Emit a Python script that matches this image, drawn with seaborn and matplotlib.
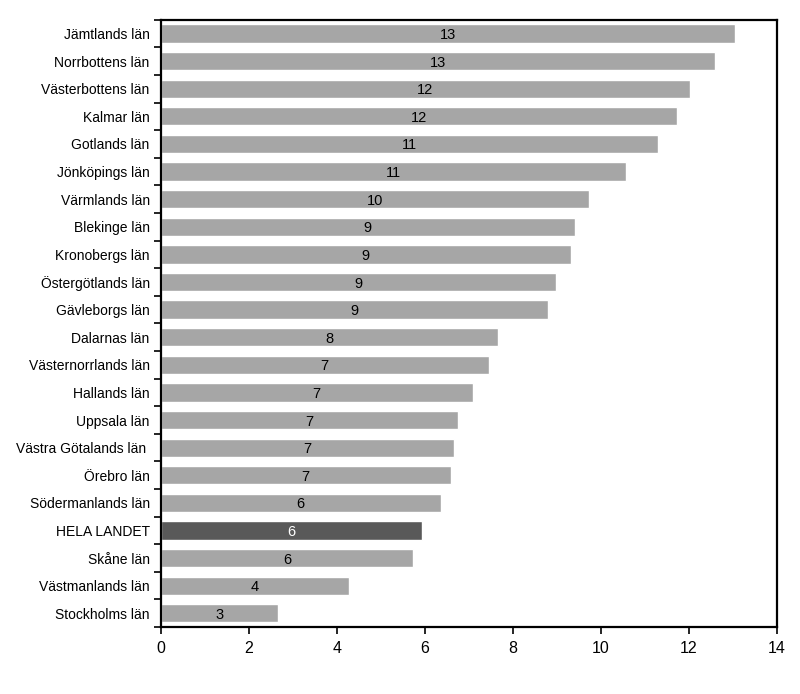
import pandas as pd
import matplotlib
matplotlib.use("Agg")
import matplotlib.pyplot as plt
import seaborn as sns

# --- data ---
counties = ['Jämtlands län', 'Norrbottens län', 'Västerbottens län', 'Kalmar län',
            'Gotlands län', 'Jönköpings län', 'Värmlands län', 'Blekinge län',
            'Kronobergs län', 'Östergötlands län', 'Gävleborgs län', 'Dalarnas län',
            'Västernorrlands län', 'Hallands län', 'Uppsala län', 'Västra Götalands län ',
            'Örebro län', 'Södermanlands län', 'HELA LANDET', 'Skåne län',
            'Västmanlands län', 'Stockholms län']
values = [13.05, 12.59, 12.02, 11.73, 11.30, 10.57, 9.73, 9.41, 9.32, 8.98, 8.80,
          7.66, 7.45, 7.09, 6.75, 6.66, 6.59, 6.36, 5.93, 5.73, 4.27, 2.66]
highlight = 'HELA LANDET'

df = pd.DataFrame({'county': counties, 'value': values})
df['group'] = ['total' if c == highlight else 'county' for c in counties]

# --- plotting ---
sns.set_style("white")
plt.rcParams['font.family'] = ['Liberation Sans', 'DejaVu Sans']
plt.rcParams['text.color'] = 'black'
plt.rcParams['xtick.color'] = 'black'
plt.rcParams['ytick.color'] = 'black'

fig = plt.figure(figsize=(8, 6.94), dpi=100)
ax = fig.add_axes([0.201, 0.0965, 0.77, 0.875])

sns.barplot(
    data=df, x='value', y='county', hue='group',
    palette={'county': '#a6a6a6', 'total': '#595959'},
    orient='h', width=0.66, dodge=False, legend=False,
    saturation=1, ax=ax
)

# value labels, rounded, centered in each bar
for container in ax.containers:
    labels = ax.bar_label(container, fmt='%.0f', label_type='center', fontsize=10.5)
    for bar, lab in zip(container, labels):
        lab.set_va('center_baseline')
        if bar.get_height() > 0 and bar.get_facecolor()[0] < 0.5:
            lab.set_color('white')

ax.set_xlim(0, 14)
ax.set_xticks(range(0, 15, 2))
ax.set_xlabel('')
ax.set_ylabel('')
ax.set_ylim(len(counties) - 0.5, -0.5)

# tick marks between categories, labels at centres
ax.set_yticks([i - 0.5 for i in range(len(counties) + 1)], minor=True)
ax.tick_params(axis='y', which='major', length=0, pad=8, labelsize=10, labelcolor='black')
ax.tick_params(axis='y', which='minor', length=5, width=1.2, direction='out', left=True)
ax.tick_params(axis='x', which='major', length=5, width=1.2, direction='out',
               bottom=True, labelsize=11.5, pad=5, labelcolor='black')

for side in ['left', 'right', 'top', 'bottom']:
    ax.spines[side].set_visible(True)
    ax.spines[side].set_color('black')
    ax.spines[side].set_linewidth(1.6)

fig.savefig('out.png', dpi=100)
